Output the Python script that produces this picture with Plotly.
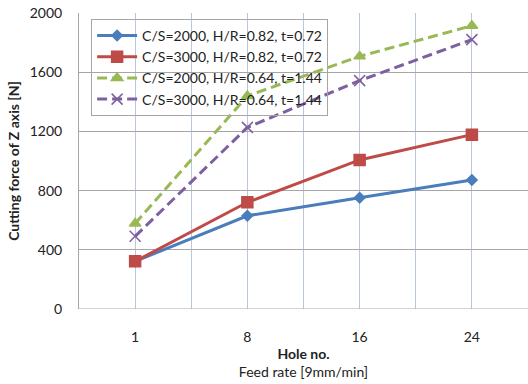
import plotly.graph_objects as go

categories = ["1", "8", "16", "24"]
names = [
    "C/S=2000, H/R=0.82, t=0.72",
    "C/S=3000, H/R=0.82, t=0.72",
    "C/S=2000, H/R=0.64, t=1.44",
    "C/S=3000, H/R=0.64, t=1.44",
]
s1 = [322, 630, 752, 872]
s2 = [322, 721, 1007, 1178]
s3 = [577, 1440, 1707, 1914]
s4 = [491, 1227, 1543, 1820]

series = [s1, s2, s3, s4]
colors = ["#4A7EBB", "#BE4B48", "#98B954", "#7D60A0"]
symbols = ["diamond", "square", "triangle-up", "x-thin"]
sizes = [8, 11, 10, 11]
dashes = ["solid", "solid", "10px,5px", "10px,5px"]

xpos = list(range(len(categories)))

fig = go.Figure()
for name, ys, c, sym, sz, d in zip(names, series, colors, symbols, sizes, dashes):
    fig.add_trace(go.Scatter(
        x=xpos, y=ys, name=name, mode="lines+markers",
        line=dict(color=c, width=3, dash=d),
        marker=dict(symbol=sym, size=sz, color=c, line=dict(color=c, width=1.5)),
    ))

fig.update_layout(
    width=528, height=384,
    margin=dict(l=79, r=0, t=13, b=75),
    plot_bgcolor="white", paper_bgcolor="white",
    font=dict(family="Lato, Open Sans, sans-serif", size=14, color="#222"),
    showlegend=True,
    legend=dict(
        x=0.027, y=0.98, xanchor="left", yanchor="top",
        bgcolor="rgba(255,255,255,0)", bordercolor="#A6A6A6", borderwidth=1,
        font=dict(size=14, color="#222"), tracegroupgap=0, itemwidth=40,
    ),
    xaxis=dict(
        range=[-0.5, 3.5], tickvals=xpos, ticktext=categories,
        showgrid=True, gridcolor="#B9C7DD", gridwidth=1,
        minor=dict(tickvals=[0.5, 1.5, 2.5], showgrid=True, gridcolor="#B9C7DD", gridwidth=1),
        zeroline=False, showline=False,
        ticks="outside", ticklen=15, tickcolor="rgba(0,0,0,0)",
        tickfont=dict(size=14, color="#222"),
        title=dict(text="<b>Hole no.</b><br>Feed rate [9mm/min]", standoff=4,
                   font=dict(size=14, color="#222")),
    ),
    yaxis=dict(
        range=[0, 2000], tickvals=[0, 400, 800, 1200, 1600, 2000],
        showgrid=True, gridcolor="#A6A6A6", gridwidth=1,
        zeroline=False, showline=True, linecolor="#A6A6A6", linewidth=1,
        ticks="outside", ticklen=13, tickcolor="rgba(0,0,0,0)",
        tickfont=dict(size=14, color="#222"),
        title=dict(text="<b>Cutting force of Z axis [N]</b>", standoff=6,
                   font=dict(size=14, color="#222")),
    ),
)
fig.add_shape(type="line", xref="paper", yref="y", x0=0, x1=1, y0=0, y1=0,
              line=dict(color="#A6A6A6", width=1))

fig.write_html("out.html")
